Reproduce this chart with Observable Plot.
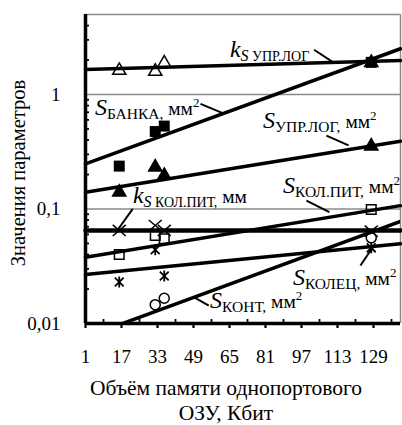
<!DOCTYPE html>
<html><head><meta charset="utf-8">
<script src="https://cdn.jsdelivr.net/npm/d3@7"></script>
<script src="https://cdn.jsdelivr.net/npm/@observablehq/plot@0.6"></script>
<style>body{margin:0;background:#fff}</style>
</head><body><div id="chart"></div>
<script>
// ---- data ----
const memory = [16, 32, 36, 128];               // Кбит
const ksUprLog  = [1.62, 1.59, 1.88, 1.90];     // open triangles
const sBanka    = [0.237, 0.475, 0.53, 1.91];   // filled squares
const sUprLog   = [0.140, 0.232, 0.196, 0.354]; // filled triangles
const sKolPit   = [0.040, 0.0587, 0.055, 0.099];// open squares
const ksKolPit  = [0.065, 0.0718, 0.065, 0.064];// crosses
const sKolec    = [0.023, 0.044, 0.026, 0.0458];// asterisks
const sKont     = [null, 0.0146, 0.0166, 0.056];// circles

const fitX = [1, 141];
const ksUprLogFit = [1.65, 1.98];
const sBankaFit   = [0.248, 2.51];
const sUprLogFit  = [0.140, 0.391];
const sKolPitFit  = [0.0379, 0.107];
const ksKolPitFit = [0.065, 0.065];
const sKolecFit   = [0.0268, 0.0497];
const sKontFit    = [0.0076, 0.0778];

const xTicks = [1, 17, 33, 49, 65, 81, 97, 113, 129];
const xMinor = [9, 25, 41, 57, 73, 89, 105, 121, 137];
const yTicks = [0.01, 0.1, 1];
const yTickLabels = ["0,01", "0,1", "1"];
const yMinor = [0.02,0.03,0.04,0.05,0.06,0.07,0.08,0.09,0.2,0.3,0.4,0.5,0.6,0.7,0.8,0.9,2,3,4];

const xTitle = "Объём памяти однопортового\nОЗУ, Кбит";
const yTitle = "Значения параметров";

// labels: main letter, italic subscript letter, subscript text, unit, superscript
const labelMain   = ["k", "S", "S", "k", "S", "S", "S"];
const labelSubIt  = ["S", "", "", "S", "", "", ""];
const labelSub    = [" УПР.ЛОГ", "БАНКА,", "УПР.ЛОГ,", " КОЛ.ПИТ,", "КОЛ.ПИТ,", "КОЛЕЦ,", "КОНТ,"];
const labelUnit   = ["", " мм", " мм", " мм", " мм", " мм", " мм"];
const labelSup    = ["", "2", "2", "", "2", "2", "2"];
const labelX      = [65.4, 5.4, 80.1, 22.3, 89.0, 93.4, 56.6];
const labelY      = [2.10, 0.655, 0.505, 0.1117, 0.1366, 0.0215, 0.01352];
// leader lines
const leadX1 = [102.6, 52.1, 108.1, 22.0, 99.2, 123.2, 55.8];
const leadY1 = [2.46, 0.829, 0.438, 0.1004, 0.1186, 0.0321, 0.01436];
const leadX2 = [110.6, 62.8, 117.9, 15.1, 109.4, 128.6, 49.1];
const leadY2 = [1.94, 0.678, 0.359, 0.0649, 0.0938, 0.0461, 0.01698];

// ---- build tables ----
const pts = (ys) => memory.map((m, i) => ({x: m, y: ys[i]})).filter(d => d.y != null);
const fit = (ys) => fitX.map((m, i) => ({x: m, y: ys[i]}));
const leaders = leadX1.map((_, i) => ({x1: leadX1[i], y1: leadY1[i], x2: leadX2[i], y2: leadY2[i]}));

const crossSym = {draw(ctx, size) { const r = Math.sqrt(size / Math.PI); ctx.moveTo(-r, -r*0.85); ctx.lineTo(r, r*0.85); ctx.moveTo(r, -r*0.85); ctx.lineTo(-r, r*0.85); }};
const astSym = {draw(ctx, size) { const r = Math.sqrt(size / Math.PI); ctx.moveTo(-r*0.8, -r*0.8); ctx.lineTo(r*0.8, r*0.8); ctx.moveTo(r*0.8, -r*0.8); ctx.lineTo(-r*0.8, r*0.8); ctx.moveTo(0, -r); ctx.lineTo(0, r); }};

const font = "Liberation Serif, Times New Roman, serif";
const lineStyle = {x: "x", y: "y", stroke: "black", strokeWidth: 3.5};

const plot = Plot.plot({
  width: 402, height: 425,
  marginLeft: 85, marginRight: 2, marginTop: 14, marginBottom: 102,
  style: {fontFamily: font, fontSize: "19px", color: "black", background: "white"},
  x: {domain: [1, 141]},
  y: {type: "log", domain: [0.01, 5]},
  marks: [
    Plot.ruleY([0.1, 1, 5], {stroke: "#8a8a8a", strokeWidth: 1.5}),
    Plot.ruleX([141], {stroke: "#8a8a8a", strokeWidth: 1.5}),
    Plot.axisY(yMinor, {anchor: "left", tickSize: -4, text: null, label: null, strokeWidth: 1.8, strokeOpacity: 1}),
    Plot.axisY(yTicks, {anchor: "left", tickSize: 0, tickPadding: 25, tickFormat: (d) => yTickLabels[yTicks.indexOf(d)], label: null, fontSize: 19}),
    Plot.axisX(xMinor, {anchor: "bottom", tickSize: -4, text: null, label: null, strokeWidth: 1.8, strokeOpacity: 1}),
    Plot.axisX(xTicks, {anchor: "bottom", tickSize: 5, tickPadding: 21, strokeWidth: 2.2, strokeOpacity: 1, label: null, fontSize: 19}),
    Plot.line(fit(ksUprLogFit), lineStyle),
    Plot.line(fit(sBankaFit), lineStyle),
    Plot.line(fit(sUprLogFit), lineStyle),
    Plot.line(fit(sKolPitFit), lineStyle),
    Plot.line(fit(ksKolPitFit), {...lineStyle, strokeWidth: 4.5}),
    Plot.line(fit(sKolecFit), lineStyle),
    Plot.line(fit(sKontFit), {...lineStyle, clip: true}),
    Plot.ruleX([1], {stroke: "black", strokeWidth: 3.5}),
    Plot.ruleY([0.01], {stroke: "black", strokeWidth: 3.5}),
    Plot.link(leaders, {x1: "x1", y1: "y1", x2: "x2", y2: "y2", stroke: "black", strokeWidth: 2}),
    Plot.dot(pts(ksUprLog).slice(3), {x: "x", y: "y", symbol: "triangle", r: 4.9, fill: "black", stroke: "black"}),
    Plot.dot(pts(ksUprLog).slice(0, 3), {x: "x", y: "y", symbol: "triangle", r: 4.9, fill: "none", stroke: "black", strokeWidth: 1.5}),
    Plot.dot(pts(sBanka), {x: "x", y: "y", symbol: "square", r: 6.2, fill: "black", stroke: "none"}),
    Plot.dot(pts(sUprLog), {x: "x", y: "y", symbol: "triangle", r: 4.9, fill: "black", stroke: "black"}),
    Plot.dot(pts(sKolPit), {x: "x", y: "y", symbol: "square", r: 5.4, fill: "none", stroke: "black", strokeWidth: 1.5}),
    Plot.dot(pts(ksKolPit), {x: "x", y: "y", symbol: crossSym, r: 6.5, fill: "none", stroke: "black", strokeWidth: 1.5}),
    Plot.dot(pts(sKolec), {x: "x", y: "y", symbol: astSym, r: 5.5, fill: "none", stroke: "black", strokeWidth: 1.8}),
    Plot.dot(pts(sKont), {x: "x", y: "y", symbol: "circle", r: 5, fill: "none", stroke: "black", strokeWidth: 1.5}),
    Plot.text([yTitle], {frameAnchor: "left", textAnchor: "middle", rotate: -90, dx: -67, dy: 4, text: (d) => d, fontSize: 20.5, fill: "black"}),
    Plot.text([xTitle], {frameAnchor: "bottom", textAnchor: "middle", lineAnchor: "top", dx: -17, dy: 54, lineHeight: 1.15, text: (d) => d, fontSize: 21.5, fill: "black"})
  ]
});

// rich-text curve labels positioned through the plot's scales
const sx = plot.scale("x"), sy = plot.scale("y");
const g = d3.select(plot).append("g").attr("font-family", font).attr("fill", "black").attr("text-anchor", "start");
labelMain.forEach((m, i) => {
  const t = g.append("text").attr("text-anchor", "start").attr("x", sx.apply(labelX[i])).attr("y", sy.apply(labelY[i]));
  t.append("tspan").attr("font-style", "italic").attr("font-size", 24).text(m);
  if (labelSubIt[i]) {
    t.append("tspan").attr("font-size", 16).attr("font-style", "italic").attr("dy", 4).text(labelSubIt[i]);
    t.append("tspan").attr("font-size", 14).text(labelSub[i]);
  } else {
    t.append("tspan").attr("font-size", 15.5).attr("dy", 4).text(labelSub[i]);
  }
  if (labelUnit[i]) t.append("tspan").attr("font-size", 19.5).attr("dy", -4).text(labelUnit[i]);
  if (labelSup[i]) t.append("tspan").attr("font-size", 13).attr("dy", -8).text(labelSup[i]);
});

document.getElementById("chart").appendChild(plot);
</script>
</body></html>
